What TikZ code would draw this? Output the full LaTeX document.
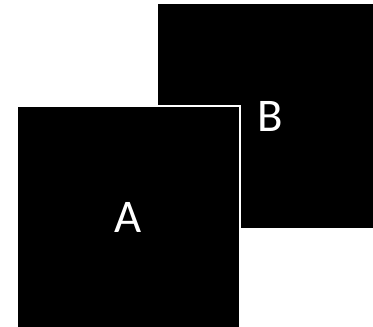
\documentclass[tikz,border=0pt]{standalone}
\usepackage{fontspec}
\setmainfont{Carlito}
\usepackage{tikz}
\usetikzlibrary{positioning}

\begin{document}
\begin{tikzpicture}[x=1bp, y=-1bp,
  sq/.style={fill=black, text=white, inner sep=0pt, minimum size=224bp,
    font=\fontsize{47}{50}\selectfont}]
  % frame
  \useasboundingbox (0,0) rectangle (373,327);
  \clip (0,0) rectangle (373,327);
  % back square
  \node[sq] (B) at (270,116) {B};
  % front square
  \node[sq, draw=white, line width=2.5bp, minimum size=223bp] (A) at (128.5,217.5) {A};
\end{tikzpicture}
\end{document}
